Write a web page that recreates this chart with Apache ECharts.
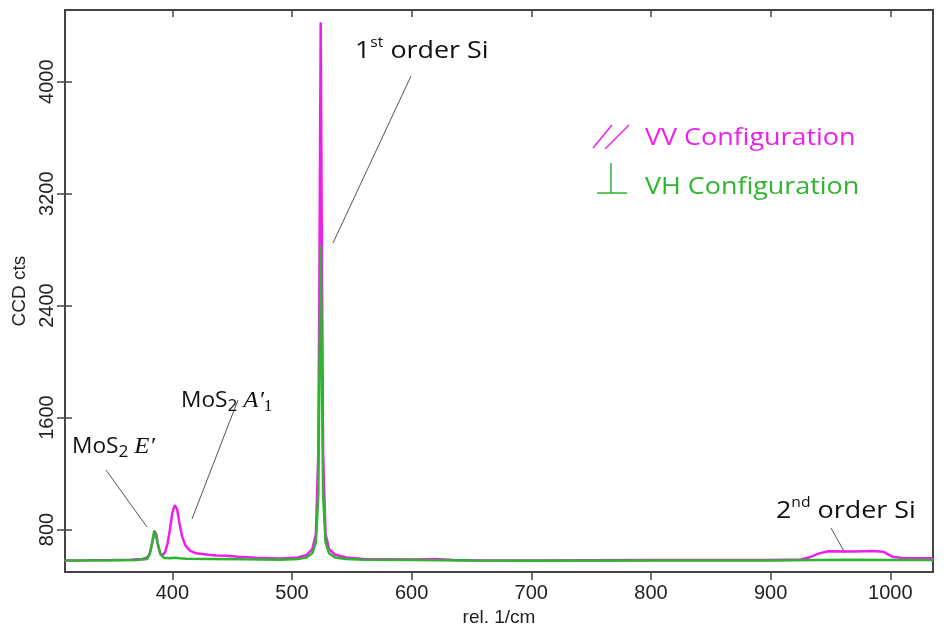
<!DOCTYPE html>
<html>
<head>
<meta charset="utf-8">
<script src="https://cdn.jsdelivr.net/npm/echarts@6/dist/echarts.min.js"></script>
<style>
  html, body { margin: 0; padding: 0; background: #fff; }
  #main { width: 949px; height: 632px; }
</style>
</head>
<body>
<div id="main"></div>
<script>
// 拉曼光谱数据 (rel. 1/cm, CCD cts)
var vvData = [
  [310, 579], [330, 580], [350, 582], [365, 585], [375, 590], [379, 600], [381, 625], [383, 695],
  [385, 785], [386.5, 770], [388, 690], [390, 625], [392, 618], [394, 640], [396, 700], [398, 800],
  [400, 920], [402, 975], [404, 945], [406, 845], [408, 755], [411, 685], [415, 648], [420, 630],
  [430, 620], [437, 614], [445, 612], [455, 605], [470, 598], [490, 594], [505, 600], [512, 618],
  [517, 660], [520, 770], [522, 1350], [523, 2750], [524, 4425], [525, 2750], [526, 1350], [528, 770],
  [531, 660], [536, 622], [545, 600], [560, 590], [580, 588], [600, 586], [620, 590], [635, 583],
  [660, 579], [700, 579], [750, 581], [800, 582], [850, 582], [900, 583], [925, 586], [932, 600],
  [940, 628], [948, 645], [970, 643], [985, 646], [994, 642], [1002, 605], [1010, 596], [1036, 595]
];
var vhData = [
  [310, 578], [350, 580], [370, 582], [379, 590], [381, 620], [383, 700], [385, 793], [386.5, 782],
  [388, 695], [390, 625], [393, 598], [398, 595], [402, 599], [406, 595], [412, 591], [430, 590],
  [460, 587], [490, 585], [505, 590], [512, 600], [517, 630], [520, 710], [522, 1050], [523, 1950],
  [524, 2835], [525, 1950], [526, 1050], [528, 710], [531, 630], [536, 600], [545, 590], [560, 585],
  [600, 583], [650, 578], [700, 577], [800, 578], [900, 578], [940, 582], [970, 584], [1000, 582],
  [1036, 582]
];
var xTicks = [400, 500, 600, 700, 800, 900, 1000];
var yTicks = [800, 1600, 2400, 3200, 4000];

var MAGENTA = '#ee1fee';
var GREEN = '#2db52d';
var AXIS = '#444';

var chart = echarts.init(document.getElementById('main'));

var mainFont = '"Open Sans", "Noto Sans", sans-serif';
var mathFont = '"Liberation Serif", "DejaVu Serif", serif';
var axisFont = '"Liberation Sans", Arial, sans-serif';

function axisBase(min, max) {
  return {
    type: 'value',
    min: min,
    max: max,
    splitLine: { show: false },
    axisLine: { show: true, onZero: false, lineStyle: { color: AXIS, width: 2 } }
  };
}

function plain(v) {
  return String(v);
}

var annoRich = {
  n: { fontSize: 24, fontFamily: mainFont, fill: '#111', lineHeight: 30 },
  sup: { fontSize: 14, fontFamily: mainFont, fill: '#111', lineHeight: 30, verticalAlign: 'top', padding: [0, 0, 12, 0] }
};
var mosRich = {
  n: { fontSize: 21, fontFamily: mainFont, fill: '#111', lineHeight: 28 },
  sub: { fontSize: 16, fontFamily: mainFont, fill: '#111', lineHeight: 28, padding: [10, 0, 0, 0] },
  m: { fontSize: 23, fontFamily: mathFont, fontStyle: 'italic', fill: '#111', lineHeight: 28 },
  msub: { fontSize: 16, fontFamily: mathFont, fill: '#111', lineHeight: 28, padding: [12, 0, 0, 0] }
};

var option = {
  animation: false,
  backgroundColor: '#fff',
  grid: {
    left: 65, right: 16, top: 10, bottom: 59,
    show: true, borderColor: AXIS, borderWidth: 2
  },
  xAxis: [
    Object.assign(axisBase(310.3, 1035.7), {
      name: 'rel. 1/cm',
      nameLocation: 'middle',
      nameGap: 29,
      nameTextStyle: { fontSize: 19, color: '#222', fontFamily: axisFont },
      axisTick: { show: true, inside: false, length: 8, customValues: xTicks, lineStyle: { color: AXIS, width: 1.5 } },
      axisLabel: { customValues: xTicks, formatter: plain, margin: 11, fontSize: 20, color: '#222', fontFamily: axisFont }
    }),
    Object.assign(axisBase(310.3, 1035.7), {
      axisTick: { show: true, inside: true, length: 7, customValues: xTicks, lineStyle: { color: AXIS, width: 1.5 } },
      axisLabel: { show: false }
    })
  ],
  yAxis: [
    Object.assign(axisBase(496, 4512), {
      name: 'CCD cts',
      nameLocation: 'middle',
      nameRotate: 90,
      nameGap: 31,
      nameTextStyle: { fontSize: 19, color: '#222', fontFamily: axisFont },
      axisTick: { show: true, inside: false, length: 8, customValues: yTicks, lineStyle: { color: AXIS, width: 1.5 } },
      axisLabel: { customValues: yTicks, formatter: plain, rotate: 90, margin: 8, fontSize: 20, color: '#222', fontFamily: axisFont }
    }),
    Object.assign(axisBase(496, 4512), {
      position: 'left',
      axisTick: { show: true, inside: true, length: 7, customValues: yTicks, lineStyle: { color: AXIS, width: 1.5 } },
      axisLabel: { show: false }
    })
  ],
  series: [
    {
      name: 'VV Configuration',
      type: 'line',
      data: vvData,
      showSymbol: false,
      lineStyle: { color: MAGENTA, width: 2.5 },
      z: 2
    },
    {
      name: 'VH Configuration',
      type: 'line',
      data: vhData,
      showSymbol: false,
      lineStyle: { color: GREEN, width: 2.5 },
      z: 3
    }
  ],
  graphic: [
    // 引线
    { type: 'line', shape: { x1: 411, y1: 76, x2: 333, y2: 243 }, style: { stroke: '#555', lineWidth: 1 } },
    { type: 'line', shape: { x1: 238, y1: 400, x2: 192, y2: 519 }, style: { stroke: '#555', lineWidth: 1 } },
    { type: 'line', shape: { x1: 106, y1: 470, x2: 147, y2: 527 }, style: { stroke: '#555', lineWidth: 1 } },
    { type: 'line', shape: { x1: 831, y1: 528, x2: 845, y2: 553 }, style: { stroke: '#555', lineWidth: 1 } },
    // 标注文字
    {
      type: 'text', x: 355, y: 51, scaleX: 1.12,
      style: { text: '{n|1}{sup|st}{n| order Si}', rich: annoRich, align: 'left', verticalAlign: 'middle' }
    },
    {
      type: 'text', x: 776, y: 511, scaleX: 1.12,
      style: { text: '{n|2}{sup|nd}{n| order Si}', rich: annoRich, align: 'left', verticalAlign: 'middle' }
    },
    {
      type: 'text', x: 181, y: 401, scaleX: 1.08,
      style: { text: '{n|MoS}{sub|2}{n| }{m|A′}{msub|1}', rich: mosRich, align: 'left', verticalAlign: 'middle' }
    },
    {
      type: 'text', x: 72, y: 447, scaleX: 1.08,
      style: { text: '{n|MoS}{sub|2}{n| }{m|E′}', rich: mosRich, align: 'left', verticalAlign: 'middle' }
    },
    // 图例
    { type: 'line', shape: { x1: 593, y1: 148, x2: 612, y2: 125 }, style: { stroke: MAGENTA, lineWidth: 1.5 } },
    { type: 'line', shape: { x1: 605, y1: 149, x2: 629, y2: 125 }, style: { stroke: MAGENTA, lineWidth: 1.5 } },
    { type: 'line', shape: { x1: 611, y1: 163, x2: 611, y2: 193 }, style: { stroke: GREEN, lineWidth: 1.5 } },
    { type: 'line', shape: { x1: 597, y1: 193, x2: 627, y2: 193 }, style: { stroke: GREEN, lineWidth: 1.5 } },
    {
      type: 'text', x: 645, y: 138, scaleX: 1.12,
      style: { text: 'VV Configuration', fontSize: 24, fontFamily: mainFont, fill: MAGENTA, align: 'left', verticalAlign: 'middle' }
    },
    {
      type: 'text', x: 645, y: 187, scaleX: 1.12,
      style: { text: 'VH Configuration', fontSize: 24, fontFamily: mainFont, fill: GREEN, align: 'left', verticalAlign: 'middle' }
    }
  ]
};

chart.setOption(option);
</script>
</body>
</html>
